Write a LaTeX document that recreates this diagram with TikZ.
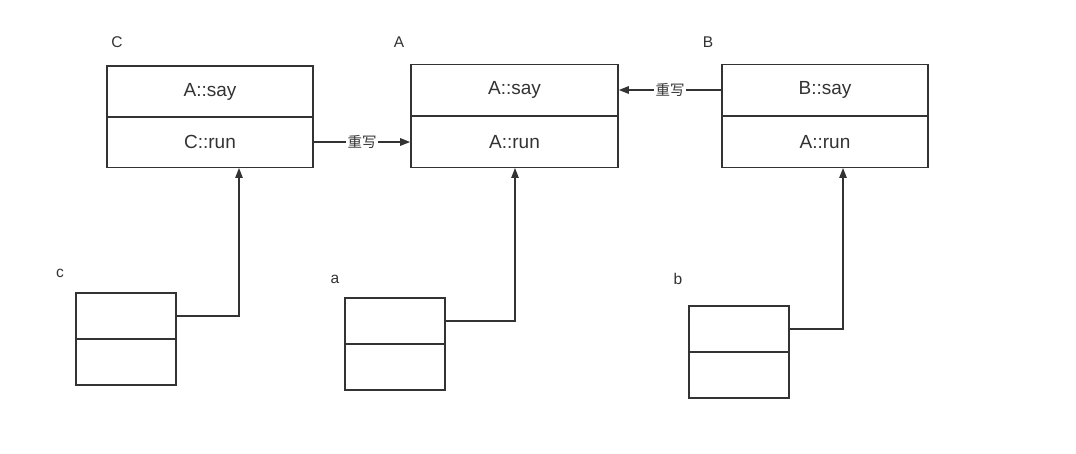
\documentclass[tikz,border=0pt]{standalone}
\usepackage{fontspec}
\setmainfont{Liberation Sans}
\newfontfamily\cjk{Noto Sans CJK SC}
\usetikzlibrary{arrows.meta}
\definecolor{ink}{HTML}{333333}
\begin{document}
\begin{tikzpicture}[x=1pt,y=-1pt,
  cell/.style={draw=ink, line width=1.6pt, line join=miter, inner sep=0pt, text=ink, font=\fontsize{19}{21}\selectfont},
  bigcell/.style={cell, minimum width=206pt, minimum height=51pt},
  smallcell/.style={cell, minimum width=100pt, minimum height=46pt},
  lbl/.style={text=ink, font=\fontsize{15.5}{17}\selectfont, inner sep=0pt},
  link/.style={draw=ink, line width=1.3pt, -{Triangle[length=10pt,width=7.5pt]}},
  tag/.style={fill=white, text=ink, font=\cjk\fontsize{14.5}{16}\selectfont, inner sep=1.5pt}]
\useasboundingbox[fill=white] (0,0) rectangle (1076,454);
% top classes
\node[bigcell] (Ctop) at (210,91.5) {A::say};
\node[bigcell] (Cbot) at (210,142) {C::run};
\node[bigcell, minimum width=207pt] (Atop) at (514.5,90) {A::say};
\node[bigcell, minimum width=207pt] (Abot) at (514.5,142) {A::run};
\node[bigcell] (Btop) at (825,90) {B::say};
\node[bigcell] (Bbot) at (825,142) {A::run};
\node[lbl] (Clbl) at (117,42) {C};
\node[lbl] (Albl) at (399,42) {A};
\node[lbl] (Blbl) at (708,42) {B};
% instances
\node[smallcell] (ctop) at (126,316) {};
\node[smallcell] (cbot) at (126,362) {};
\node[smallcell] (atop) at (395,321) {};
\node[smallcell] (abot) at (395,367) {};
\node[smallcell] (btop) at (739,329) {};
\node[smallcell] (bbot) at (739,375) {};
\node[lbl] (clbl) at (60,273) {c};
\node[lbl] (albl) at (335,279) {a};
\node[lbl] (blbl) at (678,279) {b};
% connectors
\coordinate (Cin) at (239,168);
\coordinate (Ain) at (515,168);
\coordinate (Bin) at (843,168);
\draw[link] (ctop.east) -| (Cin);
\draw[link] (atop.east) -| (Ain);
\draw[link] (btop.east) -| (Bin);
\draw[link] (Cbot.east) -- node[tag, pos=0.5] {重写} (Abot.west);
\draw[link] (Btop.west) -- node[tag, pos=0.5] {重写} (Atop.east);
\end{tikzpicture}
\end{document}
